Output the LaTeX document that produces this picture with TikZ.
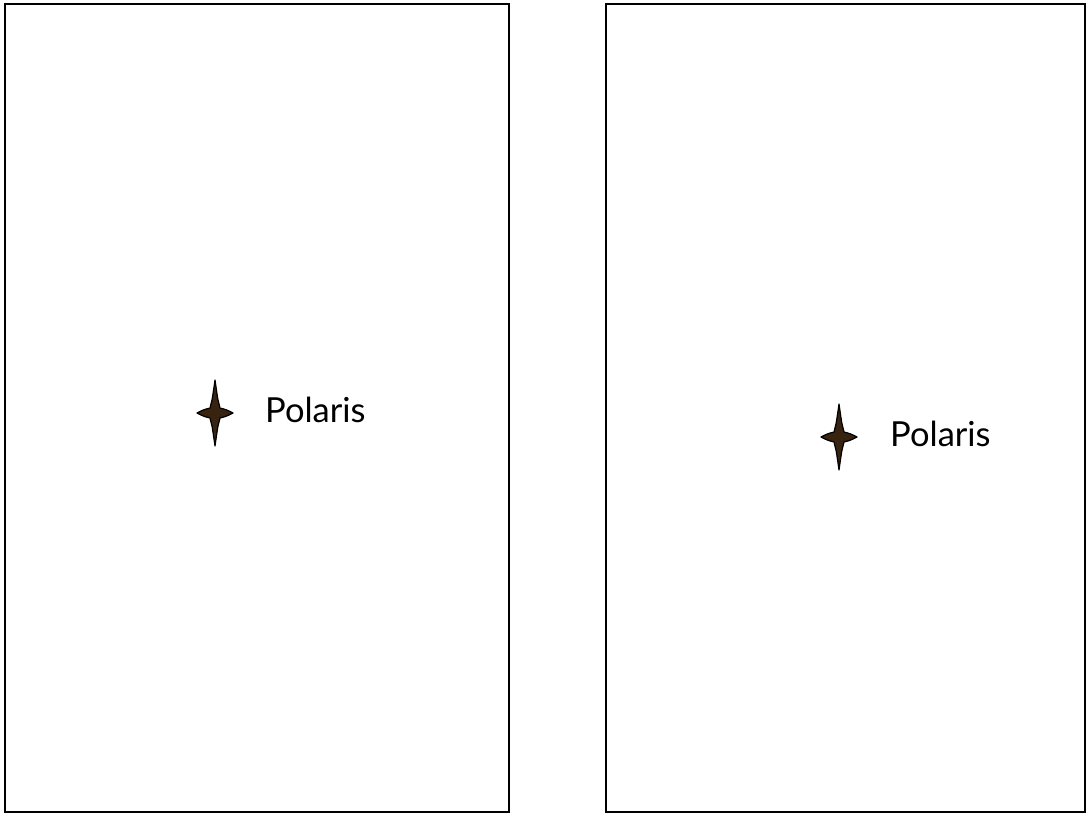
\documentclass[tikz,border=0pt]{standalone}
\usepackage{fontspec}
\setmainfont{Lato}
\definecolor{starfill}{RGB}{55,35,15}
\tikzset{
  panel/.style={draw=black, line width=1.8pt},
  starshape/.style={fill=starfill, draw=black, line width=1.2pt, line join=round},
  label/.style={anchor=base west, inner sep=0pt, font=\fontsize{34.5}{40}\selectfont}
}
\begin{document}
\begin{tikzpicture}[x=1pt,y=-1pt]
\useasboundingbox (0,0) rectangle (1087,814);
\draw[panel] (5,4) rectangle (509,812);
\draw[panel] (606,4) rectangle (1085,812);
% star 1
\coordinate (s1) at (215,413);
\draw[starshape,shift={(s1)}] (0,-33) .. controls (3,-12) .. (5,-5) .. controls (11,-3.5) .. (18,0) .. controls (11,3.5) .. (5,5) .. controls (3,12) .. (0,33) .. controls (-3,12) .. (-5,5) .. controls (-11,3.5) .. (-18,0) .. controls (-11,-3.5) .. (-5,-5) .. controls (-3,-12) .. cycle;
\node[label] (p1) at (265,422) {Polaris};
% star 2
\coordinate (s2) at (839,437);
\draw[starshape,shift={(s2)}] (0,-33) .. controls (3,-12) .. (5,-5) .. controls (11,-3.5) .. (18,0) .. controls (11,3.5) .. (5,5) .. controls (3,12) .. (0,33) .. controls (-3,12) .. (-5,5) .. controls (-11,3.5) .. (-18,0) .. controls (-11,-3.5) .. (-5,-5) .. controls (-3,-12) .. cycle;
\node[label] (p2) at (890,446) {Polaris};
\end{tikzpicture}
\end{document}
